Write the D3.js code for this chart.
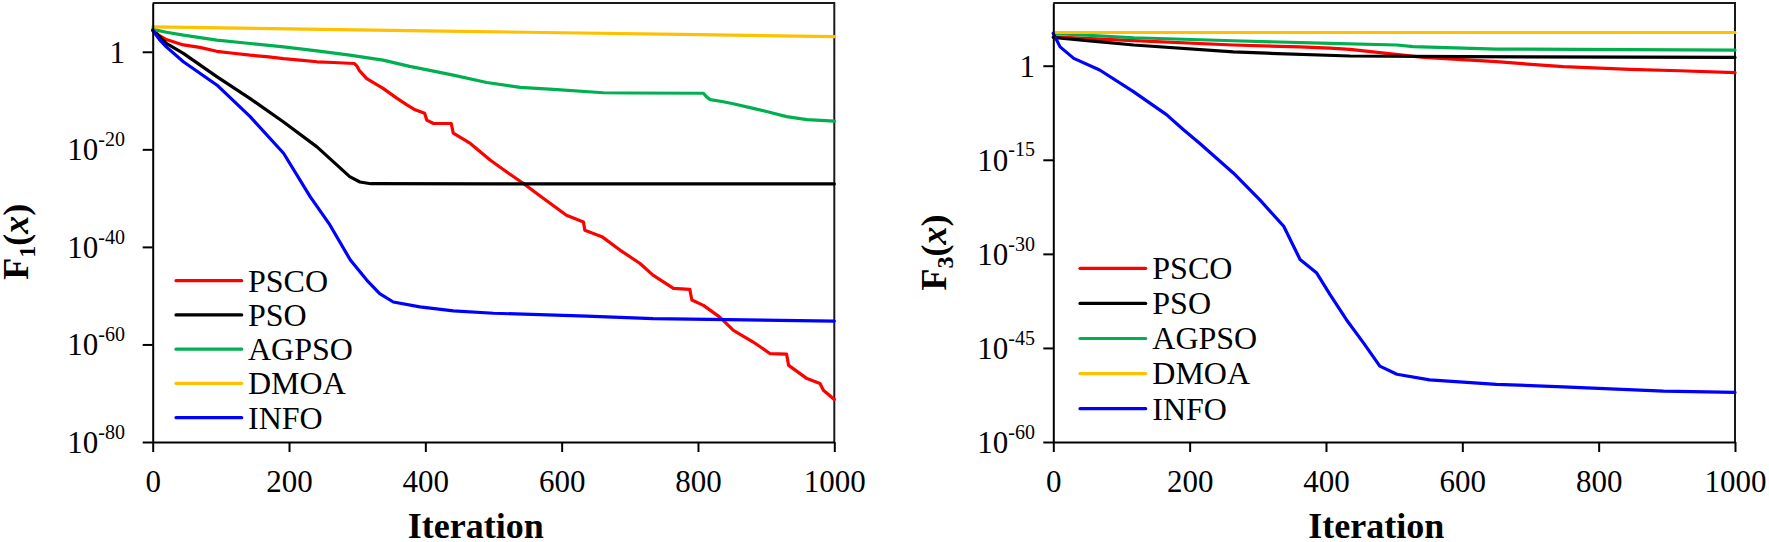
<!DOCTYPE html>
<html><head><meta charset="utf-8">
<script src="https://cdn.jsdelivr.net/npm/d3@7"></script>
<style>body{margin:0;background:#fff} svg{display:block}</style>
</head><body>
<svg id="chart" width="1769" height="542"></svg>
<script>
// ---------------- DATA ----------------
const seriesNames = ["PSCO", "PSO", "AGPSO", "DMOA", "INFO"];
const seriesColors = ["#FF0000", "#000000", "#00B050", "#FFC000", "#0000FF"];
const xTickValues = [0, 200, 400, 600, 800, 1000];
const f1YTickExps = [0, -20, -40, -60, -80];
const f3YTickExps = [0, -15, -30, -45, -60];
const xLabel = "Iteration";

// Each point: [iteration, log10(best fitness)]
const f1_PSCO = [[0,4.45],[10,3.3],[20,2.5],[45,1.4],[69,0.9],[94,0.1],[118,-0.3],[143,-0.7],[167,-1.0],[192,-1.4],[216,-1.7],[241,-2.05],[265,-2.2],[296,-2.4],[300,-3.0],[303,-3.8],[314,-5.5],[338,-7.5],[358,-9.5],[373,-10.9],[385,-11.9],[399,-12.6],[402,-14.0],[412,-14.7],[438,-14.7],[441,-16.7],[466,-18.8],[495,-22.2],[519,-24.6],[544,-27.0],[563,-29.0],[607,-33.5],[632,-34.9],[634,-36.6],[659,-37.9],[686,-40.7],[715,-43.4],[734,-45.8],[764,-48.5],[788,-48.7],[791,-50.9],[808,-52.0],[832,-54.4],[852,-57.1],[881,-59.5],[906,-61.9],[930,-62.0],[933,-64.3],[960,-67.0],[979,-68.0],[984,-69.4],[1000,-71.3]];
const f1_PSO = [[0,4.45],[10,3.1],[20,1.7],[45,-0.33],[94,-5.1],[143,-9.6],[192,-14.4],[241,-19.5],[289,-25.6],[304,-26.7],[320,-27.05],[500,-27.1],[1000,-27.1]];
const f1_AGPSO = [[0,4.6],[20,4.0],[45,3.4],[94,2.4],[143,1.7],[192,1.0],[241,0.2],[289,-0.7],[338,-1.7],[377,-3.0],[392,-3.4],[441,-4.8],[490,-6.3],[539,-7.3],[588,-7.7],[661,-8.4],[700,-8.45],[808,-8.5],[813,-9.3],[818,-9.8],[835,-10.2],[850,-10.6],[881,-11.6],[905,-12.4],[930,-13.3],[960,-13.9],[1000,-14.2]];
const f1_DMOA = [[0,5.1],[200,4.7],[400,4.3],[600,3.9],[800,3.5],[1000,3.1]];
const f1_INFO = [[0,4.4],[10,2.5],[20,1.0],[45,-2.05],[94,-6.8],[143,-13.3],[192,-20.8],[231,-29.7],[260,-35.5],[290,-42.7],[314,-46.8],[333,-49.6],[353,-51.3],[392,-52.3],[441,-53.1],[500,-53.6],[637,-54.2],[734,-54.7],[1000,-55.2]];

const f3_PSCO = [[0,4.6],[118,4.0],[264,3.3],[362,3.0],[406,2.8],[435,2.6],[543,1.33],[650,0.64],[748,-0.16],[846,-0.57],[919,-0.8],[1000,-1.1]];
const f3_PSO = [[0,4.5],[50,4.0],[118,3.3],[264,2.2],[313,2.0],[435,1.55],[600,1.45],[1000,1.33]];
const f3_AGPSO = [[0,5.15],[118,4.46],[264,3.98],[406,3.56],[504,3.3],[528,3.03],[650,2.66],[1000,2.5]];
const f3_DMOA = [[0,5.3],[500,5.3],[1000,5.3]];
const f3_INFO = [[0,5.15],[10,3.0],[30,1.17],[68,-0.68],[117,-4.1],[166,-7.8],[191,-10.2],[215,-12.4],[264,-17.1],[303,-21.4],[338,-25.6],[362,-30.9],[386,-33.0],[406,-36.5],[430,-40.5],[455,-44.2],[479,-47.9],[504,-49.2],[552,-50.1],[650,-50.8],[748,-51.2],[895,-51.9],[1000,-52.1]];

// ---------------- LAYOUT ----------------
const FONT = "'Liberation Serif','Times New Roman',serif";
const panels = [
  { left: 152.7, right: 834.3, top: 3, bottom: 442, yMinExp: -80, yMaxExp: 10, ticks: f1YTickExps,
    series: [f1_PSCO, f1_PSO, f1_AGPSO, f1_DMOA, f1_INFO], sub: "1",
    labelGap: 27.7, yLabelX: 28, yLabelY: 241.7,
    legX1: 176, legX2: 241.7, legTextX: 248, legY0: 280.7, legStep: 34.25 },
  { left: 1053.3, right: 1735, top: 3, bottom: 442, yMinExp: -60, yMaxExp: 10, ticks: f3YTickExps,
    series: [f3_PSCO, f3_PSO, f3_AGPSO, f3_DMOA, f3_INFO], sub: "3",
    labelGap: 18.3, yLabelX: 946, yLabelY: 252.5,
    legX1: 1080, legX2: 1145.7, legTextX: 1152.3, legY0: 268.3, legStep: 35.1 }
];

const svg = d3.select("#chart");

panels.forEach(cfg => {
  const g = svg.append("g");
  const x = d3.scaleLinear().domain([0, 1000]).range([cfg.left, cfg.right]);
  const y = d3.scaleLog().domain([Math.pow(10, cfg.yMinExp), Math.pow(10, cfg.yMaxExp)]).range([cfg.bottom, cfg.top]);

  // top/right frame
  g.append("path")
    .attr("d", `M${cfg.left},${cfg.top}H${cfg.right}V${cfg.bottom}`)
    .attr("fill", "none").attr("stroke", "#1a1a1a").attr("stroke-width", 2);

  // series
  const line = d3.line().x(d => x(d[0])).y(d => y(Math.pow(10, d[1])));
  cfg.series.forEach((s, i) => {
    g.append("path").datum(s).attr("d", line)
      .attr("fill", "none").attr("stroke", seriesColors[i]).attr("stroke-width", 3.2)
      .attr("stroke-linejoin", "round").attr("stroke-linecap", "round");
  });

  // x axis
  const gx = g.append("g").attr("transform", `translate(0,${cfg.bottom})`)
    .call(d3.axisBottom(x).tickValues(xTickValues).tickSize(10).tickSizeOuter(0).tickFormat(d3.format("d")));
  gx.select(".domain").attr("stroke", "#000").attr("stroke-width", 2);
  gx.selectAll(".tick line").attr("stroke", "#000").attr("stroke-width", 2);
  gx.selectAll(".tick text").attr("y", 492 - cfg.bottom).attr("dy", null)
    .attr("font-family", FONT).attr("font-size", 31).attr("fill", "#000");

  // y axis
  const gy = g.append("g").attr("transform", `translate(${cfg.left},0)`)
    .call(d3.axisLeft(y).tickValues(cfg.ticks.map(e => Math.pow(10, e))).tickSize(10).tickSizeOuter(0).tickFormat(() => ""));
  gy.select(".domain").attr("stroke", "#000").attr("stroke-width", 2);
  gy.selectAll(".tick line").attr("stroke", "#000").attr("stroke-width", 2);
  gy.selectAll(".tick text").each(function(d) {
    const e = Math.round(Math.log10(d));
    const t = d3.select(this).text(null)
      .attr("x", -cfg.labelGap).attr("dy", null).attr("y", 10.5)
      .attr("font-family", FONT).attr("font-size", 31).attr("fill", "#000").attr("text-anchor", "end");
    if (e === 0) { t.text("1"); }
    else {
      t.append("tspan").text("10");
      t.append("tspan").attr("dy", -14.3).attr("font-size", 20).text(String(e));
    }
  });

  // x label
  g.append("text").attr("x", cfg.left + 323).attr("y", 538)
    .attr("text-anchor", "middle").attr("font-family", FONT).attr("font-weight", "bold")
    .attr("font-size", 36).text(xLabel);

  // y label
  const yl = g.append("text")
    .attr("transform", `translate(${cfg.yLabelX},${cfg.yLabelY}) rotate(-90)`)
    .attr("text-anchor", "middle").attr("font-family", FONT).attr("font-weight", "bold").attr("font-size", 36);
  yl.append("tspan").text("F");
  yl.append("tspan").attr("font-size", 24).attr("dy", 7).text(cfg.sub);
  yl.append("tspan").attr("dy", -7).text("(");
  yl.append("tspan").attr("font-style", "italic").text("x");
  yl.append("tspan").text(")");

  // legend
  seriesNames.forEach((name, i) => {
    const ly = cfg.legY0 + i * cfg.legStep;
    g.append("line").attr("x1", cfg.legX1).attr("x2", cfg.legX2).attr("y1", ly).attr("y2", ly)
      .attr("stroke", seriesColors[i]).attr("stroke-width", 3.2).attr("stroke-linecap", "round");
    g.append("text").attr("x", cfg.legTextX).attr("y", ly + 10.8)
      .attr("font-family", FONT).attr("font-size", 32).attr("fill", "#000").text(name);
  });
});
</script>
</body></html>
